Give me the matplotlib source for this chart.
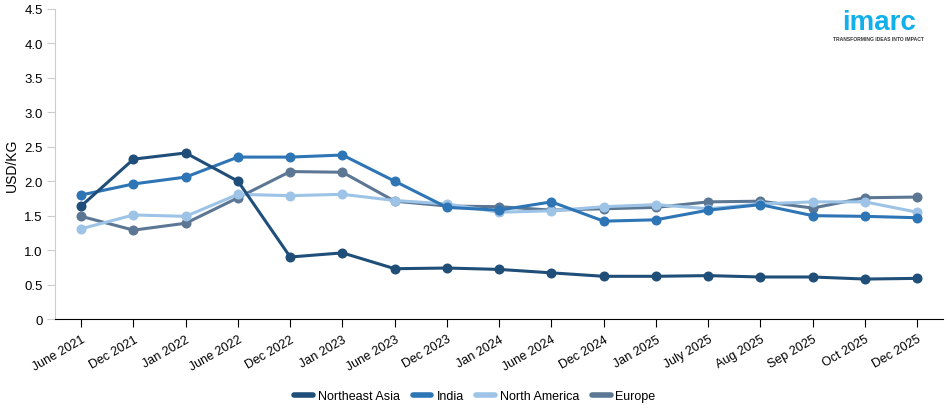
import matplotlib.pyplot as plt
import numpy as np

plt.rcParams['font.family'] = ['Liberation Sans', 'DejaVu Sans']

months = ["June 2021", "Dec 2021", "Jan 2022", "June 2022", "Dec 2022", "Jan 2023",
          "June 2023", "Dec 2023", "Jan 2024", "June 2024", "Dec 2024", "Jan 2025",
          "July 2025", "Aug 2025", "Sep 2025", "Oct 2025", "Dec 2025"]

northeast_asia = [1.64, 2.32, 2.41, 2.00, 0.90, 0.96, 0.73, 0.74, 0.72, 0.67, 0.62, 0.62,
                  0.63, 0.61, 0.61, 0.58, 0.59]
india = [1.80, 1.96, 2.06, 2.35, 2.35, 2.38, 2.00, 1.62, 1.58, 1.70, 1.42, 1.44,
         1.58, 1.66, 1.50, 1.49, 1.47]
north_america = [1.31, 1.51, 1.49, 1.81, 1.79, 1.81, 1.72, 1.67, 1.55, 1.57, 1.63, 1.66,
                 1.60, 1.67, 1.70, 1.70, 1.55]
europe = [1.49, 1.29, 1.39, 1.76, 2.14, 2.13, 1.71, 1.64, 1.63, 1.58, 1.60, 1.62,
          1.70, 1.71, 1.61, 1.76, 1.77]

series = [
    ("Northeast Asia", northeast_asia, "#1f4e79"),
    ("India", india, "#2e75b6"),
    ("North America", north_america, "#9dc3e6"),
    ("Europe", europe, "#5b7793"),
]

fig = plt.figure(figsize=(9.5, 4.14), dpi=100)
ax = fig.add_axes([0.058, 0.227, 0.935, 0.749])

x = np.arange(len(months))
# draw Europe first so the other lines sit on top like the original
for name, vals, color in [series[3], series[2], series[1], series[0]]:
    ax.plot(x, vals, color=color, linewidth=2.2, marker="o", markersize=6.2,
            label=name, solid_capstyle="round")

ax.set_xlim(-0.5, len(months) - 0.5)
ax.set_ylim(0, 4.5)
ax.set_yticks(np.arange(0, 4.51, 0.5))
ax.set_yticklabels(["0"] + [f"{v:.1f}" for v in np.arange(0.5, 4.51, 0.5)])
ax.set_xticks(x)
ax.set_xticklabels(months, rotation=30, ha="right", rotation_mode="anchor")
ax.tick_params(axis="x", length=6, color="black", labelsize=9, pad=4)
ax.tick_params(axis="y", length=6, color="#cccccc", labelsize=9.5, pad=3)
ax.set_ylabel("USD/KG", fontsize=10)

for side in ["top", "right"]:
    ax.spines[side].set_visible(False)
ax.spines["left"].set_color("#cccccc")
ax.spines["bottom"].set_color("black")

handles, labels = ax.get_legend_handles_labels()
order = [3, 2, 1, 0]
leg = fig.legend([handles[i] for i in order], [labels[i] for i in order],
                 loc="center", bbox_to_anchor=(0.5, 0.04), ncol=4, frameon=False,
                 fontsize=9, handlelength=1.5, columnspacing=1.0, handletextpad=0.4)
for h in leg.get_lines():
    h.set_marker("")
    h.set_linewidth(4)

# logo
fig.text(0.925, 0.945, "imarc", color="#12b0ea", fontsize=20, fontweight="bold",
         ha="center", va="center")
fig.text(0.925, 0.905, "TRANSFORMING IDEAS INTO IMPACT", color="#333333", fontsize=3.6,
         fontweight="bold", ha="center", va="center")

fig.savefig("out.png", dpi=100)
